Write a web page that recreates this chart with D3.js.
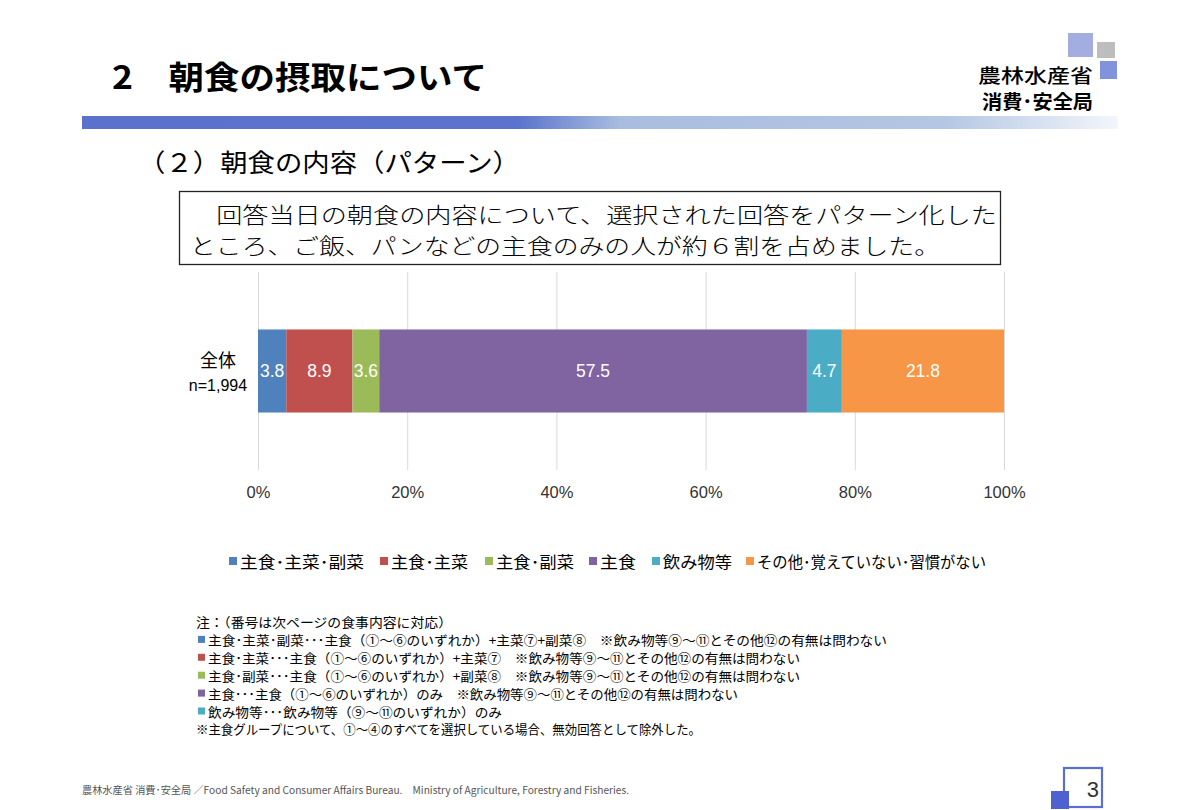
<!DOCTYPE html>
<html><head><meta charset="utf-8">
<script src="https://cdn.jsdelivr.net/npm/d3@7"></script>
<style>
body{margin:0;background:#fff;}
svg{display:block;}
</style></head><body>
<svg id="c" width="1200" height="810"></svg>
<script>
const categories = ["全体"];
const categoryNote = "n=1,994";
const series = ["主食･主菜･副菜","主食･主菜","主食･副菜","主食","飲み物等","その他･覚えていない･習慣がない"];
const values = [3.8, 8.9, 3.6, 57.5, 4.7, 21.8];
const colors = ["#4f81bd","#c0504d","#9bbb59","#8064a2","#4bacc6","#f79646"];
const ticks = [0, 0.2, 0.4, 0.6, 0.8, 1.0];
const legendX = [229, 380, 485, 589, 652, 746];
const legendW = [124, 77, 78, 36, 69, 229];
const noteLines = [
  {c:null, t:"注：（番号は次ページの食事内容に対応）", w:256},
  {c:0, t:"主食･主菜･副菜･･･主食（①～⑥のいずれか）+主菜⑦+副菜⑧　※飲み物等⑨～⑪とその他⑫の有無は問わない", w:679},
  {c:1, t:"主食･主菜･･･主食（①～⑥のいずれか）+主菜⑦　※飲み物等⑨～⑪とその他⑫の有無は問わない", w:592},
  {c:2, t:"主食･副菜･･･主食（①～⑥のいずれか）+副菜⑧　※飲み物等⑨～⑪とその他⑫の有無は問わない", w:592},
  {c:3, t:"主食･･･主食（①～⑥のいずれか）のみ　※飲み物等⑨～⑪とその他⑫の有無は問わない", w:530},
  {c:4, t:"飲み物等･･･飲み物等（⑨～⑪のいずれか）のみ", w:294},
  {c:null, t:"※主食グループについて、①～④のすべてを選択している場合、無効回答として除外した。", w:505}
];

const svg = d3.select("#c");
const JP = "'Noto Sans CJK JP','Noto Sans',sans-serif";
const LAT = "'Liberation Sans',Arial,sans-serif";

// header gradient bar
const defs = svg.append("defs");
const g = defs.append("linearGradient").attr("id","hg").attr("x1","0").attr("x2","1");
[[0,"#5a72cc"],[0.42,"#5b73cc"],[0.52,"#a9bde0"],[0.83,"#b3c6e3"],[1,"#f3f6fb"]].forEach(s=>g.append("stop").attr("offset",s[0]).attr("stop-color",s[1]));
svg.append("rect").attr("x",82).attr("y",116).attr("width",1036).attr("height",13).attr("fill","url(#hg)");

// title
svg.append("text").attr("x",112).attr("y",89).attr("font-family",JP).attr("font-weight",700)
  .attr("font-size",32).attr("fill","#000").attr("textLength",375).attr("lengthAdjust","spacingAndGlyphs")
  .text("2　朝食の摂取について");

// logo
svg.append("rect").attr("x",1068).attr("y",33).attr("width",25).attr("height",24).attr("fill","#a3addf");
svg.append("rect").attr("x",1097).attr("y",42).attr("width",18).attr("height",16).attr("fill","#bdbdbd");
svg.append("rect").attr("x",1100).attr("y",61).attr("width",17).attr("height",18).attr("fill","#8193dc");
svg.append("text").attr("x",978).attr("y",83).attr("font-family",JP).attr("font-weight",500).attr("font-size",19)
  .attr("textLength",115).attr("lengthAdjust","spacingAndGlyphs").text("農林水産省");
svg.append("text").attr("x",982).attr("y",109).attr("font-family",JP).attr("font-weight",700).attr("font-size",19)
  .attr("textLength",111).attr("lengthAdjust","spacingAndGlyphs").text("消費･安全局");

// subtitle
svg.append("text").attr("x",138).attr("y",172).attr("font-family",JP).attr("font-size",25).attr("fill","#000")
  .attr("textLength",382).attr("lengthAdjust","spacingAndGlyphs").text("（２）朝食の内容（パターン）");

// summary box
svg.append("rect").attr("x",179.5).attr("y",191.5).attr("width",821).attr("height",73).attr("fill","#fff").attr("stroke","#222").attr("stroke-width",1.3);
svg.append("text").attr("x",190).attr("y",223).attr("font-family",JP).attr("font-weight",300).attr("font-size",21.4).attr("fill","#000")
  .attr("textLength",807).attr("lengthAdjust","spacingAndGlyphs").text("　回答当日の朝食の内容について、選択された回答をパターン化した");
svg.append("text").attr("x",190).attr("y",254).attr("font-family",JP).attr("font-weight",300).attr("font-size",21.4).attr("fill","#000")
  .attr("textLength",750).attr("lengthAdjust","spacingAndGlyphs").text("ところ、ご飯、パンなどの主食のみの人が約６割を占めました。");

// chart
const x = d3.scaleLinear().domain([0,1]).range([258,1004]);
const y = d3.scaleBand().domain(categories).range([272,470]).padding(0.409);
const plotTop = 272, plotBot = 470;

svg.append("g").attr("transform",`translate(0,${plotTop})`)
  .call(d3.axisTop(x).tickValues(ticks).tickSize(-(plotBot-plotTop)).tickFormat(""))
  .call(a=>a.select(".domain").remove())
  .call(a=>a.selectAll("line").attr("stroke","#d9d9d9").attr("stroke-width",1));

svg.append("g").attr("transform",`translate(0,${plotBot})`)
  .call(d3.axisBottom(x).tickValues(ticks).tickSize(0).tickPadding(16).tickFormat(d3.format(".0%")))
  .call(a=>a.select(".domain").remove())
  .call(a=>a.selectAll("text").attr("font-family",LAT).attr("font-size",16.5).attr("fill","#333"));

const total = d3.sum(values);
let cum = 0;
const segs = values.map((v,i)=>{const s={v,i,x0:cum/total,x1:(cum+v)/total}; cum+=v; return s;});
const bars = svg.append("g");
bars.selectAll("rect").data(segs).join("rect")
  .attr("x",d=>x(d.x0)).attr("width",d=>x(d.x1)-x(d.x0))
  .attr("y",y(categories[0])).attr("height",y.bandwidth())
  .attr("fill",d=>colors[d.i]);
bars.selectAll("text").data(segs).join("text")
  .attr("x",d=>(x(d.x0)+x(d.x1))/2).attr("y",y(categories[0])+y.bandwidth()/2+6)
  .attr("text-anchor","middle").attr("font-family",LAT).attr("font-size",17.5).attr("fill","#fff")
  .text(d=>d3.format(".1f")(d.v));

// category label
svg.append("text").attr("x",218).attr("y",367).attr("text-anchor","middle").attr("font-family",JP).attr("font-size",18).attr("fill","#000").text(categories[0]);
svg.append("text").attr("x",218).attr("y",391).attr("text-anchor","middle").attr("font-family",LAT).attr("font-size",16).attr("fill","#000").text(categoryNote);

// legend
const lg = svg.append("g");
series.forEach((s,i)=>{
  lg.append("rect").attr("x",legendX[i]).attr("y",557).attr("width",8).attr("height",8).attr("fill",colors[i]);
  lg.append("text").attr("x",legendX[i]+11).attr("y",568).attr("font-family",JP).attr("font-size",16).attr("fill","#000")
    .attr("textLength",legendW[i]).attr("lengthAdjust","spacingAndGlyphs").text(s);
});

// notes
const ng = svg.append("g");
noteLines.forEach((n,i)=>{
  const yy = 627 + i*17.9;
  let tx = 196;
  if(n.c!==null){
    ng.append("rect").attr("x",198).attr("y",yy-9).attr("width",7).attr("height",7).attr("fill",colors[n.c]);
    tx = 208;
  }
  ng.append("text").attr("x",tx).attr("y",yy).attr("font-family",JP).attr("font-size",13).attr("fill","#000")
    .attr("textLength",n.w).attr("lengthAdjust","spacingAndGlyphs").text(n.t);
});

// footer
svg.append("text").attr("x",82).attr("y",794).attr("font-family",JP).attr("font-size",10).attr("fill","#555")
  .attr("textLength",547).attr("lengthAdjust","spacingAndGlyphs")
  .text("農林水産省 消費･安全局 ／Food Safety and Consumer Affairs Bureau.　Ministry of Agriculture, Forestry and Fisheries.");

// page number
svg.append("rect").attr("x",1064).attr("y",768).attr("width",38).attr("height",39).attr("fill","#fff").attr("stroke","#5b6fd3").attr("stroke-width",2.2);
svg.append("rect").attr("x",1051).attr("y",791).attr("width",18).attr("height",18).attr("fill","#4d62d0");
svg.append("text").attr("x",1099).attr("y",797).attr("text-anchor","end").attr("font-family",LAT).attr("font-size",22).attr("fill","#333").text("3");
</script>
</body></html>
